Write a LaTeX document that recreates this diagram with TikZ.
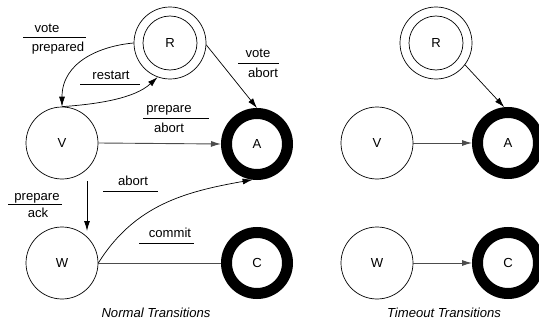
\documentclass[tikz,border=0pt]{standalone}
\usepackage{fontspec}
\setmainfont{Liberation Sans}
\usetikzlibrary{arrows.meta}
\begin{document}
\begin{tikzpicture}[x=1pt,y=1pt,
  every node/.style={font=\fontsize{13.1}{15}\selectfont},
  st/.style={circle,draw,line width=0.7pt,minimum size=72pt,inner sep=0pt,outer sep=0.35pt},
  fin/.style={circle,draw,line width=11pt,minimum size=61pt,inner sep=0pt,outer sep=5.5pt},
  arr/.style={-{Latex[length=10pt,width=6pt]},line width=0.7pt},
  harr/.style={arr,draw=black!70,line width=0.9pt},
  lbl/.style={anchor=base,inner sep=0pt},
  bar/.style={line width=0.7pt},
  captxt/.style={anchor=base,inner sep=0pt,font=\fontsize{13.1}{15}\selectfont\itshape}
]
\useasboundingbox (0,0) rectangle (539,-324);

% left: normal transitions
\node[st] (R) at (170,-43) {R};
\draw[line width=0.7pt] (R.center) circle[radius=27];
\node[st] (V) at (62,-143) {V};
\node[fin] (A) at (257,-144) {A};
\node[st] (W) at (62,-263) {W};
\node[fin] (C) at (257,-263) {C};

\draw[arr] (R.west) .. controls (100,-46) and (62,-62) .. (V.north);
\draw[arr] (V.north) .. controls (100,-104) and (135,-98) .. (R.250);
\draw[arr] (R.-3) -- (A.north);
\draw[harr] (V.east) -- (A.west);
\coordinate (vw1) at (87,-181);
\coordinate (vw2) at (87,-231);
\draw[arr,line width=0.9pt] (vw1) -- (vw2);
\draw[arr] (W.east) to[out=58,in=190] (A.-97);
\draw[harr,-] (W.east) -- (C.west);

% labels
\node[lbl] (l1) at (47,-32) {vote};
\draw[bar] (23,-37) -- (86,-37);
\node[lbl] (l2) at (58,-51) {prepared};

\node[lbl] (l3) at (111,-79) {restart};
\draw[bar] (80,-84) -- (140,-84);

\node[lbl] (l4) at (258,-57) {vote};
\draw[bar] (238,-63) -- (279,-63);
\node[lbl] (l5) at (263,-77) {abort};

\node[lbl] (l6) at (169,-112) {prepare};
\draw[bar] (143,-118) -- (209,-118);
\node[lbl] (l7) at (169,-132) {abort};

\node[lbl] (l8) at (37,-200) {prepare};
\draw[bar] (8,-204) -- (62,-204);
\node[lbl] (l9) at (38,-217) {ack};

\node[lbl] (l10) at (133,-185) {abort};
\draw[bar] (103,-191) -- (158,-191);

\node[lbl] (l11) at (170,-237) {commit};
\draw[bar] (139,-243) -- (194,-243);

\node[captxt] (cap1) at (156,-317) {Normal Transitions};

% right: timeout transitions
\node[st] (R2) at (436,-43) {R};
\draw[line width=0.7pt] (R2.center) circle[radius=27];
\node[st] (V2) at (377,-143) {V};
\node[fin] (A2) at (508,-143) {A};
\node[st] (W2) at (377,-263) {W};
\node[fin] (C2) at (508,-263) {C};

\draw[arr] (R2.-37) -- (A2.96);
\draw[harr] (V2.east) -- (A2.west);
\draw[harr] (W2.east) -- (C2.west);

\node[captxt] (cap2) at (444,-317) {Timeout Transitions};
\end{tikzpicture}
\end{document}
